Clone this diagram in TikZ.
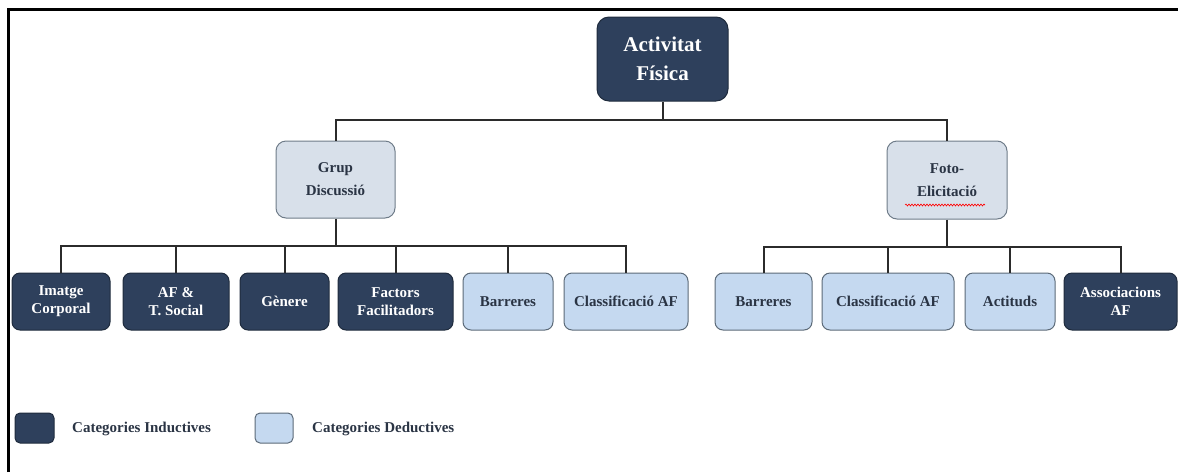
\documentclass[tikz,border=0pt]{standalone}
\usepackage{fontspec}
\setmainfont{Liberation Serif}
\usetikzlibrary{decorations.pathmorphing}
\definecolor{darkbox}{HTML}{2E405C}
\definecolor{darkedge}{HTML}{1F2B3D}
\definecolor{lightbox}{HTML}{C5D9F0}
\definecolor{lightedge}{HTML}{5C6A78}
\definecolor{midbox}{HTML}{D8E0EA}
\definecolor{midedge}{HTML}{6F7C89}
\definecolor{wirecol}{HTML}{2B2B2B}
\definecolor{darktext}{HTML}{2A3444}
\begin{document}
\begin{tikzpicture}[x=1pt,y=-1pt,
  box/.style={rounded corners=8pt, line width=1pt, align=center,
    font=\bfseries\fontsize{15}{18}\selectfont, inner sep=0pt, minimum height=57},
  dark/.style={box, fill=darkbox, draw=darkedge, text=white},
  light/.style={box, fill=lightbox, draw=lightedge, text=darktext},
  mid/.style={box, fill=midbox, draw=midedge, text=darktext, rounded corners=10pt,
    font=\bfseries\fontsize{15}{23}\selectfont},
  topbox/.style={box, fill=darkbox, draw=darkedge, text=white, rounded corners=12pt,
    font=\bfseries\fontsize{21}{29}\selectfont},
  wire/.style={draw=wirecol, line width=2pt},
  legtext/.style={anchor=west, text=darktext, font=\bfseries\fontsize{15}{18}\selectfont, inner sep=0pt}
]
\useasboundingbox (0,0) rectangle (1178,472);
% frame
\draw[line width=3pt] (8,472) -- (8,9.5) -- (1178,9.5);

% top
\node[topbox, minimum width=131, minimum height=84] (top) at (662.5,59) {Activitat\\Física};
% middle
\node[mid, minimum width=119, minimum height=77] (grup) at (335.5,179.5) {Grup\\Discussió};
\node[mid, minimum width=120, minimum height=78] (foto) at (947,180) {Foto-\\Elicitació};
\draw[red, line width=0.6pt, decorate, decoration={snake, amplitude=1pt, segment length=3pt}]
  (905,205) -- (985,205);

% children left
\node[dark, minimum width=98] (c1) at (61,301.5) {Imatge\\Corporal};
\node[dark, minimum width=106] (c2) at (176,301.5) {AF \&\\T. Social};
\node[dark, minimum width=89] (c3) at (284.5,301.5) {Gènere};
\node[dark, minimum width=115] (c4) at (395.5,301.5) {Factors\\Facilitadors};
\node[light, minimum width=90] (c5) at (508,301.5) {Barreres};
\node[light, minimum width=124] (c6) at (626,301.5) {Classificació AF};
% children right
\node[light, minimum width=97] (d1) at (763.5,301.5) {Barreres};
\node[light, minimum width=132] (d2) at (888,301.5) {Classificació AF};
\node[light, minimum width=90] (d3) at (1010,301.5) {Actituds};
\node[dark, minimum width=113] (d4) at (1120.5,301.5) {Associacions\\AF};

% connectors
\coordinate (busT) at (662.5,120);
\coordinate (busL) at (335.5,246);
\coordinate (busR) at (947,247);
\draw[wire] (top.south) -- (busT);
\draw[wire] (busT) -| (grup.north);
\draw[wire] (busT) -| (foto.north);
\draw[wire] (grup.south) -- (busL);
\draw[wire] (foto.south) -- (busR);
\foreach \n in {c1,c2,c3,c4,c5,c6} \draw[wire] (busL) -| (\n.north);
\foreach \n in {d1,d2,d3,d4} \draw[wire] (busR) -| (\n.north);

% legend
\node[dark, rounded corners=5pt, minimum width=39, minimum height=30] (legD) at (34.5,428) {};
\node[legtext] (legDt) at (72,429) {Categories Inductives};
\node[light, rounded corners=5pt, minimum width=38, minimum height=30] (legL) at (274,428) {};
\node[legtext] (legLt) at (312,429) {Categories Deductives};
\end{tikzpicture}
\end{document}
